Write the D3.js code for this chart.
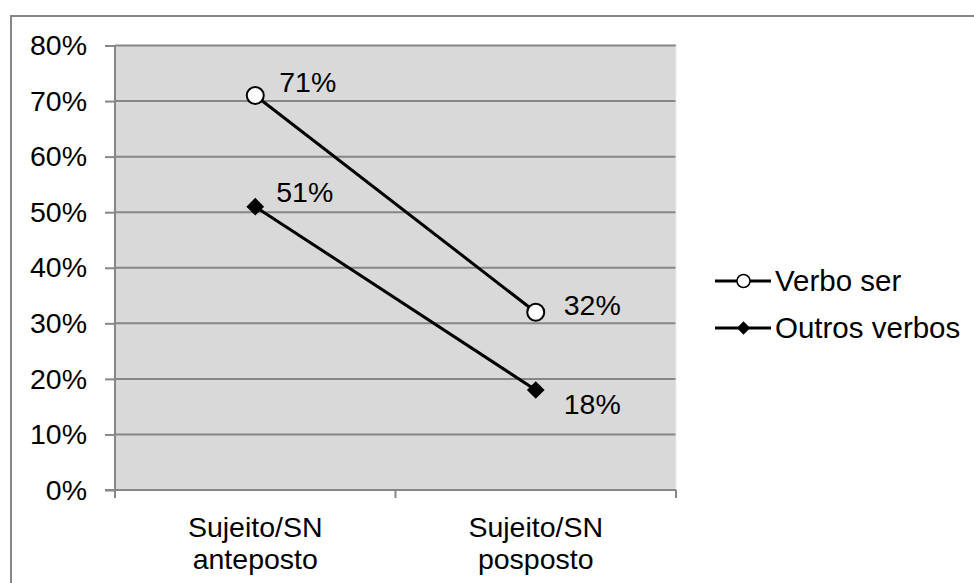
<!DOCTYPE html>
<html><head><meta charset="utf-8">
<script src="https://cdn.jsdelivr.net/npm/d3@7"></script>
<style>body{margin:0;background:#fff;} svg{display:block;font-family:"Liberation Sans",Arial,sans-serif;}</style>
</head><body>
<svg id="c" width="974" height="583"></svg>
<script>
const categories = [["Sujeito/SN","anteposto"],["Sujeito/SN","posposto"]];
const seriesNames = ["Verbo ser","Outros verbos"];
const verboSer = [0.71, 0.32];
const outrosVerbos = [0.51, 0.18];
const yTicks = [0,0.1,0.2,0.3,0.4,0.5,0.6,0.7,0.8];

const FS = 28.5;
const svg = d3.select("#c");
const L=115,R=676,T=45.5,B=490;
svg.append("rect").attr("x",11).attr("y",16).attr("width",980).attr("height",600)
  .attr("fill","#fff").attr("stroke","#868686").attr("stroke-width",2);

const x = d3.scaleBand().domain([0,1]).range([L,R]);
const y = d3.scaleLinear().domain([0,0.8]).range([B,T]);

svg.append("rect").attr("x",L).attr("y",T).attr("width",R-L).attr("height",B-T).attr("fill","#d9d9d9");

const gy = svg.append("g").attr("transform",`translate(${L},0)`)
  .call(d3.axisLeft(y).tickValues(yTicks).tickFormat(d3.format(".0%")).tickSize(10).tickPadding(18));
gy.selectAll(".tick line").attr("stroke","#868686").attr("stroke-width",2);
gy.select(".domain").attr("stroke","#868686").attr("stroke-width",2).attr("d",`M0,${T}V${B}`);
gy.selectAll("text").attr("font-size",FS).attr("fill","#000").attr("font-family","Liberation Sans, Arial, sans-serif");
// gridlines
svg.append("g").selectAll("line").data(yTicks.slice(1)).join("line")
  .attr("x1",L).attr("x2",R).attr("y1",d=>y(d)).attr("y2",d=>y(d))
  .attr("stroke","#868686").attr("stroke-width",2);
svg.append("line").attr("x1",R).attr("x2",R).attr("y1",T).attr("y2",B).attr("stroke","#eaeaea").attr("stroke-width",1);

// x axis
const gx = svg.append("g").attr("transform",`translate(0,${B})`);
gx.append("line").attr("x1",L-10).attr("x2",R).attr("y1",0).attr("y2",0).attr("stroke","#868686").attr("stroke-width",2);
[L,(L+R)/2,R].forEach(v=>gx.append("line").attr("x1",v).attr("x2",v).attr("y1",0).attr("y2",8).attr("stroke","#868686").attr("stroke-width",2));
categories.forEach((c,i)=>{
  const t = gx.append("text").attr("text-anchor","middle").attr("font-size",FS).attr("fill","#000")
    .attr("transform",`translate(${x(i)+x.bandwidth()/2},0)`);
  c.forEach((s,j)=>t.append("tspan").attr("x",0).attr("y",j===0?47:79).text(s));
});

const cx = i=>x(i)+x.bandwidth()/2;
const line = d3.line().x((d,i)=>cx(i)).y(d=>y(d));
const series = [{name:seriesNames[0],values:verboSer,marker:"circle"},{name:seriesNames[1],values:outrosVerbos,marker:"diamond"}];
const labelOff = [[[24,-4],[28,3]],[[21,-5],[28,24]]];
series.forEach((s,si)=>{
  svg.append("path").attr("d",line(s.values)).attr("fill","none").attr("stroke","#000").attr("stroke-width",3);
  s.values.forEach((v,i)=>{
    drawMarker(svg,s.marker,cx(i),y(v));
    svg.append("text").attr("x",cx(i)+labelOff[si][i][0]).attr("y",y(v)+labelOff[si][i][1])
      .attr("font-size",FS).attr("fill","#000").text(d3.format(".0%")(v));
  });
});
function drawMarker(g,type,px,py){
  if(type==="circle") g.append("circle").attr("cx",px).attr("cy",py).attr("r",8.5).attr("fill","#fff").attr("stroke","#000").attr("stroke-width",2);
  else g.append("path").attr("d",d3.symbol(d3.symbolDiamond2,200)()).attr("transform",`translate(${px},${py})`).attr("fill","#000");
}
// legend
const lg = svg.append("g");
series.forEach((s,i)=>{
  const ly = 281+i*47;
  lg.append("line").attr("x1",715).attr("x2",771).attr("y1",ly).attr("y2",ly).attr("stroke","#000").attr("stroke-width",3);
  if(s.marker==="circle") lg.append("circle").attr("cx",743.5).attr("cy",ly).attr("r",6.5).attr("fill","#fff").attr("stroke","#000").attr("stroke-width",1.5);
  else lg.append("path").attr("d",d3.symbol(d3.symbolDiamond2,112)()).attr("transform",`translate(743.5,${ly})`).attr("fill","#000");
  lg.append("text").attr("x",775).attr("y",ly+10).attr("font-size",FS+1).attr("fill","#000").text(s.name);
});
</script>
</body></html>
